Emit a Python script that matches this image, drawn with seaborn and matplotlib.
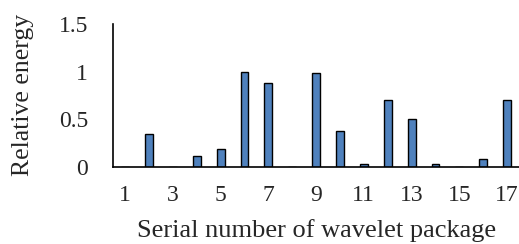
import matplotlib
matplotlib.use("Agg")
import matplotlib.pyplot as plt
import seaborn as sns
import pandas as pd

packages = list(range(1, 18))
energy = [0, 0.35, 0, 0.11, 0.19, 1.0, 0.88, 0, 0.98, 0.38, 0.03, 0.70, 0.50, 0.03, 0, 0.08, 0.70]
xtick_labels = ["1", "3", "5", "7", "9", "11", "13", "15", "17"]
ytick_values = [0, 0.5, 1, 1.5]
ytick_labels = ["0", "0.5", "1", "1.5"]

sns.set_style("white")
plt.rcParams["font.family"] = ["Liberation Serif", "DejaVu Serif"]

df = pd.DataFrame({"package": packages, "energy": energy})

fig = plt.figure(figsize=(5.19, 2.44), dpi=100)
ax = fig.add_axes([0.218, 0.316, 0.782, 0.586])
sns.barplot(data=df, x="package", y="energy", color="#4f81bd", saturation=1,
            width=0.33, edgecolor="black", linewidth=1.0, ax=ax)

ax.set_xlim(-0.5, 16.5)
ax.set_ylim(0, 1.5)
ax.set_xticks(range(0, 17, 2))
ax.set_xticklabels(xtick_labels, fontsize=17)
ax.set_yticks(ytick_values)
ax.set_yticklabels(ytick_labels, fontsize=17)
ax.tick_params(axis="x", length=0, pad=13)
ax.tick_params(axis="y", length=0, pad=18)

ax.set_xlabel("Serial number of wavelet package", fontsize=19, labelpad=9.5)
ax.set_ylabel("Relative energy", fontsize=18.5, labelpad=18)

sns.despine(ax=ax, top=True, right=True)
ax.spines["left"].set_color("black")
ax.spines["bottom"].set_color("black")
ax.spines["left"].set_linewidth(1.2)
ax.spines["bottom"].set_linewidth(1.2)

fig.savefig("out.png", dpi=100)
